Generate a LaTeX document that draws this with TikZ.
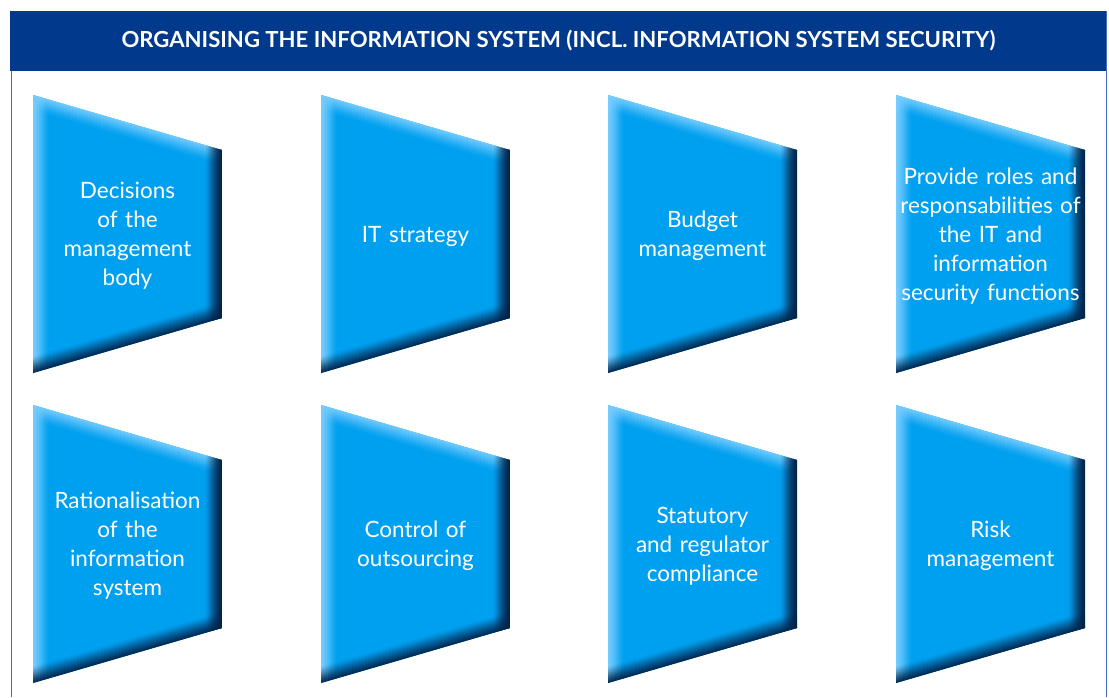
\documentclass[tikz,border=0pt]{standalone}
\usepackage{fontspec}
\setmainfont{Lato}
\usepackage{tikz}

\definecolor{headblue}{RGB}{1,58,140}
\definecolor{framblue}{RGB}{70,110,180}
\definecolor{tilebase}{RGB}{0,160,240}
\definecolor{tilelight}{RGB}{120,205,255}
\definecolor{tiledark}{RGB}{0,38,78}

\tikzstyle{headtext} = [text=white, font=\fontsize{22.1}{26}\selectfont\bfseries]
\tikzstyle{tiletext} = [text=white, align=center, text width=210pt,
	font=\fontsize{22.5}{29}\selectfont]
\tikzstyle{lightedge} = [tilelight, line width=1.3pt]
\tikzstyle{darkedge} = [tiledark, line width=1.3pt]

% one bevelled tile: name, left x, top y, label
\newcommand{\tile}[4]{
	\begin{scope}
		\clip (#2,#3) -- ++(189,55) -- ++(0,168) -- ++(-189,55) -- cycle;
		\fill[tilebase] (#2,#3) rectangle ++(189,278);
		\foreach \k in {0,...,16} {
			\pgfmathsetmacro\op{0.9*(1-\k/17)^1.6}
			\draw[lightedge, opacity=\op] ({#2+\k},#3) -- ++(0,278);
			\draw[lightedge, opacity=\op] (#2,{#3+\k}) -- ++(189,55);
		}
		\foreach \k in {0,...,16} {
			\pgfmathsetmacro\op{0.95*(1-\k/17)^1.4}
			\draw[darkedge, opacity=\op] ({#2+189-\k},#3) -- ++(0,278);
			\draw[darkedge, opacity=\op] (#2,{#3+278-\k}) -- ++(189,-55);
		}
	\end{scope}
	\node[tiletext] (#1) at ({#2+94.5},{#3+141}) {#4};
}

\begin{document}
\begin{tikzpicture}[x=1pt, y=-1pt]
	\useasboundingbox (0,0) rectangle (1109,697);

	% Frame and title bar
	\draw[framblue, line width=1pt] (11,697) -- (11,11) -- (1106,11) -- (1106,697);
	\fill[headblue] (10,11) rectangle (1106,71);
	\node[headtext] (title) at (558.5,41)
		{ORGANISING THE INFORMATION SYSTEM (INCL. INFORMATION SYSTEM SECURITY)};

	% Place tiles, first row
	\tile{decisions}{33}{95}{Decisions\\of the\\management\\body}
	\tile{strategy}{321}{95}{IT strategy}
	\tile{budget}{608}{95}{Budget\\management}
	\tile{roles}{896}{95}{Provide roles and\\responsabilities of\\the IT and\\information\\security functions}

	% Place tiles, second row
	\tile{rational}{33}{405}{Rationalisation\\of the\\information\\system}
	\tile{outsourcing}{321}{405}{Control of\\outsourcing}
	\tile{compliance}{608}{405}{Statutory\\and regulator\\compliance}
	\tile{risk}{896}{405}{Risk\\management}
\end{tikzpicture}
\end{document}
